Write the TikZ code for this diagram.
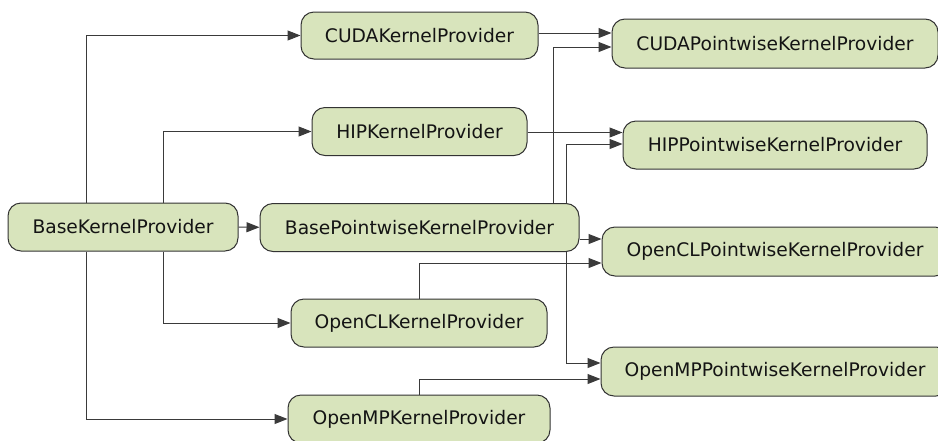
\documentclass[tikz,border=0pt]{standalone}
\usepackage{fontspec}
\setmainfont{DejaVu Sans}
\usetikzlibrary{arrows.meta}
\definecolor{boxfill}{HTML}{D8E4BC}
\definecolor{boxline}{HTML}{333333}
\definecolor{edgeline}{HTML}{3A3A3A}
\begin{document}
\begin{tikzpicture}[x=1pt,y=-1pt,
  box/.style={draw=boxline, fill=boxfill, line width=1pt, rounded corners=13pt,
    minimum height=48pt, inner sep=0pt, text=black!92,
    font=\fontsize{18.67}{22}\selectfont},
  edge/.style={draw=edgeline, line width=1pt, -{Triangle[length=13pt,width=10pt]}}]
\useasboundingbox (0,0) rectangle (938,440);
\clip (0,0) rectangle (938,440);
\node[box, minimum width=230pt] (base) at (123,227) {BaseKernelProvider};
\node[box, minimum width=319pt] (bpw) at (419.5,227.5) {BasePointwiseKernelProvider};
\node[box, minimum width=237pt, minimum height=47pt] (cuda) at (419.5,35.5) {CUDAKernelProvider};
\node[box, minimum width=215pt] (hip) at (419.5,131.5) {HIPKernelProvider};
\node[box, minimum width=256pt] (ocl) at (419,323) {OpenCLKernelProvider};
\node[box, minimum width=262pt] (omp) at (419,419) {OpenMPKernelProvider};
\node[box, minimum width=326pt, minimum height=49pt] (cudapw) at (775,43.5) {CUDAPointwiseKernelProvider};
\node[box, minimum width=304pt] (hippw) at (775,145) {HIPPointwiseKernelProvider};
\node[box, minimum width=346pt, minimum height=49pt] (oclpw) at (775,251.5) {OpenCLPointwiseKernelProvider};
\node[box, minimum width=348pt, minimum height=49pt] (omppw) at (775,371.5) {OpenMPPointwiseKernelProvider};

\draw[edge] (base.north -| 86,0) |- (cuda.west);
\draw[edge] (base.north -| 163,0) |- (hip.west);
\draw[edge] (base) -- (bpw);
\draw[edge] (base.south -| 163,0) |- (ocl.west);
\draw[edge] (base.south -| 86,0) |- (omp.west);
\draw[edge] (cuda.east |- 0,33) -- (cudapw.west |- 0,33);
\draw[edge] (bpw.north -| 553,0) |- (cudapw.west |- 0,47);
\draw[edge] (hip.east |- 0,132.5) -- (hippw.west |- 0,132.5);
\draw[edge] (bpw.north -| 566,0) |- (hippw.west |- 0,144);
\draw[edge] (bpw.east |- 0,239) -- (oclpw.west |- 0,239);
\draw[edge] (ocl.north) |- (oclpw.west |- 0,263);
\draw[edge] (bpw.south -| 566,0) |- (omppw.west |- 0,363);
\draw[edge] (omp.north) |- (omppw.west |- 0,379);
\end{tikzpicture}
\end{document}
